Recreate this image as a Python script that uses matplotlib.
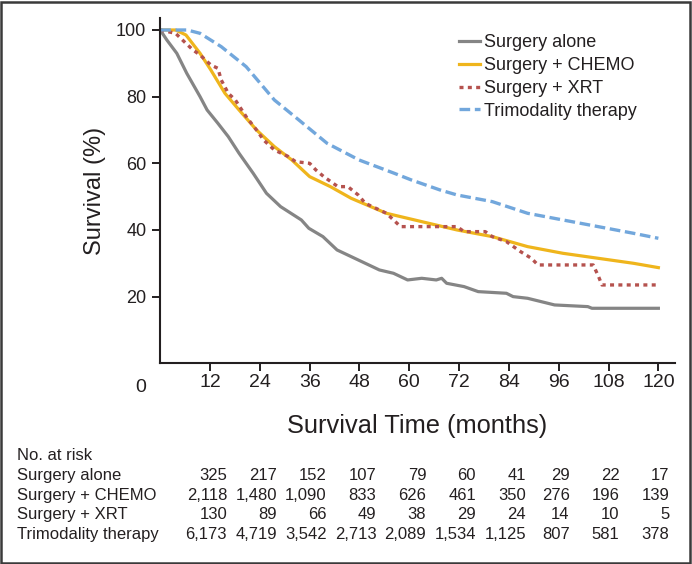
import matplotlib
matplotlib.use('Agg')
import matplotlib.pyplot as plt
from matplotlib import font_manager
from matplotlib.patches import Rectangle

# survival curves (months, % surviving)
months_alone = [0, 1.6, 4, 6.4, 9.6, 11.3, 13.9, 16.4, 19, 22.4, 25.6, 29, 34, 35.8, 39.2, 42.6,
                47.7, 52.8, 56.2, 59.6, 63, 66.5, 67.8, 69, 73.2, 76.6, 83.4, 85, 88.5, 95, 103, 104, 120]
surv_alone = [100, 97, 93, 87, 80, 76, 72, 68, 63, 57, 51, 47, 43, 40.5, 38, 34,
              31, 28, 27, 25, 25.5, 25, 25.5, 24, 23, 21.5, 21, 20, 19.5, 17.5, 17, 16.5, 16.5]

months_chemo = [0, 3.7, 6.2, 9.6, 12.2, 15.6, 19, 23.2, 27.5, 31.7, 36, 41, 46, 54.5, 63, 71.5,
                80, 88.5, 97, 105.5, 114, 120]
surv_chemo = [100, 100, 98.5, 93, 88, 81, 76, 70, 65, 61, 56, 53, 49.5, 45, 42.5, 40,
              38, 35, 33, 31.5, 30, 28.7]

months_xrt = [0, 3.7, 6.2, 7.9, 9.6, 12.2, 13.9, 14.7, 16.4, 18.1, 20.7, 23.2, 24.9, 27.5, 30.9,
              32.6, 36, 37.5, 39.4, 42.8, 45.2, 47.7, 49.4, 54.5, 57.9, 71.5, 73.2, 78.3, 80, 83.4,
              86.8, 89.4, 91, 104.3, 105.6, 106.4, 120]
surv_xrt = [100, 99, 96, 94, 92.5, 89.5, 88.5, 85, 81, 79, 74, 70, 67, 64, 62,
            60.5, 60, 58, 56, 53, 53, 50.5, 48, 45, 41, 41, 39.5, 39.5, 38, 36.5,
            33.5, 31.5, 29.5, 29.5, 26, 23.5, 23.5]

months_tri = [0, 6.5, 9.6, 14.7, 20.7, 27.5, 33.4, 40.2, 47.9, 56.4, 60.5, 67.4, 71.5, 80,
              88.5, 97, 105.5, 114, 120]
surv_tri = [100, 100, 99, 95, 89, 79, 73, 66, 61, 57, 55, 52, 50.5, 48.5,
            45, 43, 41, 39, 37.5]

# numbers at risk
risk_months = [12, 24, 36, 48, 60, 72, 84, 96, 108, 120]
risk_alone = [325, 217, 152, 107, 79, 60, 41, 29, 22, 17]
risk_chemo = [2118, 1480, 1090, 833, 626, 461, 350, 276, 196, 139]
risk_xrt = [130, 89, 66, 49, 38, 29, 24, 14, 10, 5]
risk_tri = [6173, 4719, 3542, 2713, 2089, 1534, 1125, 807, 581, 378]

groups = ["Surgery alone", "Surgery + CHEMO", "Surgery + XRT", "Trimodality therapy"]

names = {f.name for f in font_manager.fontManager.ttflist}
narrow = 'Liberation Sans Narrow' if 'Liberation Sans Narrow' in names else 'Liberation Sans'
plt.rcParams['font.family'] = ['Liberation Sans', 'DejaVu Sans']

ink = '#231f20'
fig = plt.figure(figsize=(6.92, 5.64), dpi=100)
ax = fig.add_axes([0.2315, 0.3559, 0.7439, 0.6122])

ax.plot(months_alone, surv_alone, color='#858585', lw=2.3, label=groups[0])
ax.plot(months_chemo, surv_chemo, color='#efb51c', lw=2.3, label=groups[1])
ax.plot(months_xrt, surv_xrt, color='#b5524e', lw=2.4, ls=(0, (1.2, 1.3)), label=groups[2])
ax.plot(months_tri, surv_tri, color='#72a7dc', lw=2.4, ls=(0, (3.2, 1.4)), label=groups[3])

ax.set_xlim(0, 124)
ax.set_ylim(0, 103.6)
ax.set_xticks(risk_months)
ax.set_xticklabels([str(m) for m in risk_months], family=narrow, fontsize=14)
ax.set_yticks([20, 40, 60, 80, 100])
ax.tick_params(axis='y', labelsize=13, direction='out', length=6, width=1.4, color=ink,
               labelcolor=ink, pad=4)
ax.tick_params(axis='x', direction='out', length=6, width=1.4, color=ink, labelcolor=ink, pad=2)
ax.text(-4.8, -0.045, "0", transform=ax.get_xaxis_transform(), ha='center', va='top',
        family=narrow, fontsize=14, color=ink)

for s in ['top', 'right']:
    ax.spines[s].set_visible(False)
for s in ['left', 'bottom']:
    ax.spines[s].set_linewidth(1.5)
    ax.spines[s].set_color(ink)

ax.set_xlabel("Survival Time (months)", family=narrow, fontsize=18.3, color=ink, labelpad=16)
ax.set_ylabel("Survival (%)", fontsize=17, color=ink, labelpad=7)

ax.legend(loc='upper left', bbox_to_anchor=(0.563, 0.98), frameon=False, fontsize=13,
          handlelength=1.15, handletextpad=0.25, labelspacing=0.33, borderpad=0,
          labelcolor=ink)

# number-at-risk table
row_y = [456, 475.7, 495.3, 514.7, 534.7]
fig.text(17 / 692, 1 - row_y[0] / 564, "No. at risk", fontsize=12, color=ink, va='center')
for i, (name, counts) in enumerate(zip(groups, [risk_alone, risk_chemo, risk_xrt, risk_tri])):
    yf = 1 - row_y[i + 1] / 564
    fig.text(17 / 692, yf, name, fontsize=12, color=ink, va='center')
    for j, (m, n) in enumerate(zip(risk_months, counts)):
        shift = 17 if j < 7 else 11
        ax.annotate(f"{n:,}", xy=(m, yf), xycoords=('data', 'figure fraction'),
                    xytext=(shift, 0), textcoords='offset pixels', ha='right', va='center',
                    fontsize=12, color=ink, annotation_clip=False)

fig.patches.append(Rectangle((0.002, 0.002), 0.995, 0.995, transform=fig.transFigure,
                             fill=False, lw=1.8, edgecolor='#3a3a3a'))

fig.savefig('out.png', dpi=100)
